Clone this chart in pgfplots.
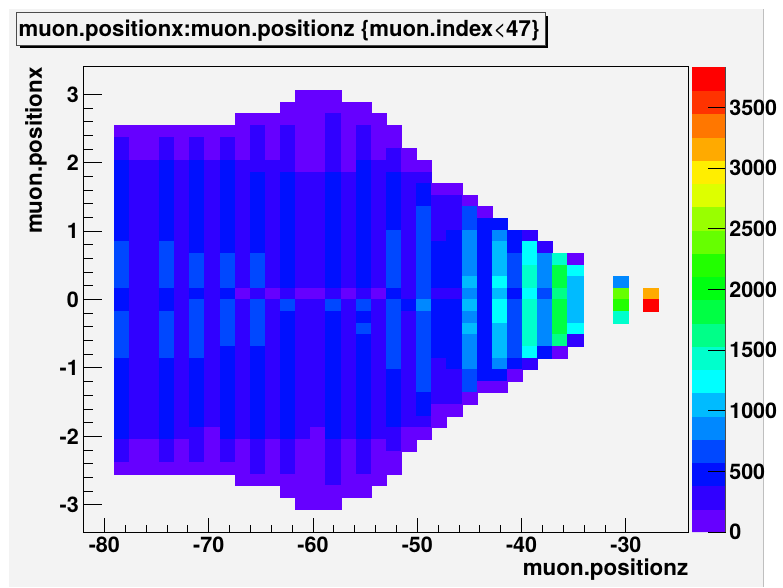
\documentclass[border=0pt]{standalone}
\usepackage{fontspec}
\setmainfont{TeX Gyre Heros}
\usepackage{pgfplots}
\usepackage{pgfplotstable}
\pgfplotsset{compat=1.18}
\definecolor{padbg}{HTML}{F3F3F3}
\pgfplotstableread[row sep=\\]{
c r n v\\
2 5 1 96\\ 2 6 2 288\\ 2 8 7 479\\ 2 15 4 671\\ 2 19 2 479\\ 2 21 4 671\\ 2 25 7 479\\ 2 32 2 288\\ 2 34 1 96\\
3 5 3 96\\ 3 8 24 288\\ 3 32 3 96\\
4 5 3 96\\ 4 8 24 288\\ 4 32 3 96\\
5 5 1 96\\ 5 6 2 288\\ 5 8 7 479\\ 5 15 4 671\\ 5 19 2 479\\ 5 21 4 671\\ 5 25 7 479\\ 5 32 2 288\\ 5 34 1 96\\
6 5 3 96\\ 6 8 24 288\\ 6 32 3 96\\
7 5 1 96\\ 7 6 2 288\\ 7 8 8 479\\ 7 16 3 671\\ 7 19 1 479\\ 7 20 5 671\\ 7 25 6 479\\ 7 31 3 288\\ 7 34 1 96\\
8 5 3 96\\ 8 8 23 288\\ 8 31 4 96\\
9 5 1 96\\ 9 6 2 288\\ 9 8 8 479\\ 9 16 3 671\\ 9 19 1 479\\ 9 20 4 671\\ 9 24 8 479\\ 9 32 2 288\\ 9 34 1 96\\
10 4 4 96\\ 10 8 11 288\\ 10 19 1 96\\ 10 20 12 288\\ 10 32 4 96\\
11 4 1 96\\ 11 5 4 288\\ 11 9 7 479\\ 11 16 3 671\\ 11 19 1 288\\ 11 20 4 671\\ 11 24 8 479\\ 11 32 3 288\\ 11 35 1 96\\
12 4 4 96\\ 12 8 11 288\\ 12 19 1 96\\ 12 20 12 288\\ 12 32 4 96\\
13 3 2 96\\ 13 5 4 288\\ 13 9 10 479\\ 13 19 1 288\\ 13 20 1 671\\ 13 21 11 479\\ 13 32 3 288\\ 13 35 2 96\\
14 2 7 96\\ 14 9 10 288\\ 14 19 1 96\\ 14 20 12 288\\ 14 32 6 96\\
15 2 7 96\\ 15 9 10 288\\ 15 19 1 96\\ 15 20 11 288\\ 15 31 7 96\\
16 2 2 96\\ 16 4 5 288\\ 16 9 10 479\\ 16 19 1 288\\ 16 20 1 671\\ 16 21 11 479\\ 16 32 4 288\\ 16 36 2 96\\
17 3 6 96\\ 17 9 10 288\\ 17 19 1 96\\ 17 20 12 288\\ 17 32 5 96\\
18 3 2 96\\ 18 5 3 288\\ 18 8 11 479\\ 18 19 1 288\\ 18 20 1 671\\ 18 21 1 479\\ 18 22 1 671\\ 18 23 9 479\\ 18 32 3 288\\ 18 35 2 96\\
19 4 4 96\\ 19 8 11 288\\ 19 19 1 96\\ 19 20 12 288\\ 19 32 4 96\\
20 5 2 96\\ 20 7 2 288\\ 20 9 5 479\\ 20 14 5 671\\ 20 19 1 479\\ 20 20 6 671\\ 20 26 5 479\\ 20 31 2 288\\ 20 33 2 96\\
21 7 2 96\\ 21 9 11 288\\ 21 20 1 479\\ 21 21 10 288\\ 21 31 2 96\\
22 8 1 96\\ 22 9 1 288\\ 22 10 2 479\\ 22 12 8 671\\ 22 20 1 863\\ 22 21 7 671\\ 22 28 2 479\\ 22 30 1 288\\ 22 31 1 96\\
23 10 1 96\\ 23 11 4 288\\ 23 15 4 479\\ 23 19 1 288\\ 23 20 5 479\\ 23 25 4 288\\ 23 29 2 96\\
24 10 1 96\\ 24 11 3 288\\ 24 14 5 479\\ 24 19 1 288\\ 24 20 6 479\\ 24 26 3 288\\ 24 29 1 96\\
25 11 1 96\\ 25 12 2 671\\ 25 14 4 863\\ 25 18 1 1055\\ 25 19 1 863\\ 25 20 1 1055\\ 25 21 1 863\\ 25 22 1 1055\\ 25 23 3 863\\ 25 26 2 671\\ 25 28 1 96\\
26 12 1 96\\ 26 13 14 479\\ 26 27 1 96\\
27 13 1 479\\ 27 14 1 863\\ 27 15 3 1055\\ 27 18 1 1247\\ 27 19 1 1055\\ 27 20 2 1247\\ 27 22 3 1055\\ 27 25 1 863\\ 27 26 1 479\\ 27 27 1 96\\
28 14 2 479\\ 28 16 3 671\\ 28 19 1 479\\ 28 20 5 671\\ 28 25 1 479\\ 28 26 1 96\\
29 14 1 288\\ 29 15 2 1247\\ 29 17 2 1438\\ 29 19 1 1247\\ 29 20 4 1438\\ 29 24 1 1247\\ 29 25 1 288\\
30 15 1 288\\ 30 16 3 863\\ 30 19 1 671\\ 30 20 4 863\\ 30 24 1 479\\
31 16 1 1438\\ 31 17 2 1822\\ 31 19 1 1630\\ 31 20 3 1822\\ 31 23 1 1630\\ 31 24 1 96\\
32 16 1 96\\ 32 17 1 1247\\ 32 18 4 1055\\ 32 22 1 1247\\ 32 23 1 288\\
35 18 1 863\\ 35 19 1 2397\\ 35 20 1 2206\\ 35 21 1 1438\\
37 19 1 3165\\ 37 20 1 3740\\
}\bins
\pgfdeclareplotmark{binrun}{%
  \pgfmathsetlengthmacro{\hh}{5.8125pt*\nrun}%
  \pgfpathrectangle{\pgfpoint{-7.5625pt}{-\hh}}{\pgfpoint{15.125pt}{2*\hh}}%
  \pgfusepathqfillstroke}
\begin{document}
\begin{tikzpicture}
\path[use as bounding box] (-83.5pt,-55pt) rectangle (699.5pt,532pt);
\fill[padbg] (-74.5pt,-55pt) rectangle (679.5pt,523pt);
\draw[black!25,line width=0.6pt] (679.5pt,-55pt) -- (679.5pt,523pt);
\begin{axis}[
  at={(0pt,0pt)}, anchor=south west,
  scale only axis, width=605pt, height=465pt,
  xmin=-82, xmax=-24, ymin=-3.4, ymax=3.4,
  xtick={-80,-70,-60,-50,-40,-30},
  xticklabels={-80,-70,-60,-50,-40,-30},
  ytick={-3,-2,-1,0,1,2,3},
  yticklabels={-3,-2,-1,0,1,2,3},
  minor x tick num=4, minor y tick num=4,
  tick pos=left, tick align=inside,
  every tick/.style={black,line width=0.9pt},
  minor tick style={black,line width=0.8pt},
  x tick style={/pgfplots/major tick length=14pt,/pgfplots/minor tick length=7pt},
  y tick style={/pgfplots/major tick length=18pt,/pgfplots/minor tick length=9pt},
  axis line style={black,line width=1pt},
  ticklabel style={font=\fontsize{21.5}{24}\selectfont\bfseries},
  xticklabel style={inner sep=0pt,yshift=-5pt},
  yticklabel style={inner sep=0pt,xshift=-4.5pt},
  xlabel={muon.positionz}, ylabel={muon.positionx},
  label style={font=\fontsize{22.4}{24}\selectfont\bfseries},
  xlabel style={at={(axis description cs:1,-0.0925)},anchor=base east,inner sep=0pt},
  ylabel style={at={(axis description cs:-0.0686,1)},anchor=base east,inner sep=0pt},
  colormap={rootpal}{rgb255=(102,0,255) rgb255=(48,0,255) rgb255=(0,16,255) rgb255=(0,72,255)
    rgb255=(0,136,255) rgb255=(0,187,255) rgb255=(0,255,255) rgb255=(0,255,204)
    rgb255=(0,255,136) rgb255=(0,255,68) rgb255=(0,255,17) rgb255=(34,255,0)
    rgb255=(102,255,0) rgb255=(153,255,0) rgb255=(221,255,0) rgb255=(255,238,0)
    rgb255=(255,170,0) rgb255=(255,119,0) rgb255=(255,51,0) rgb255=(255,0,0)},
  colormap access=piecewise constant,
  point meta min=0, point meta max=3836,
  colorbar right, colorbar sampled,
  colorbar style={
    samples=21,
    scale only axis, width=33.4pt, height=465pt,
    at={(1.00595,0)}, anchor=south west,
    ytick={0,500,1000,1500,2000,2500,3000,3500},
    yticklabels={0,500,1000,1500,2000,2500,3000,3500},
    yticklabel pos=right, ytick pos=right, tick align=inside,
    major tick length=17.7pt,
    minor y tick num=0,
    xtick=\empty,
    axis x line=none,
    axis y line*=right,
    y axis line style={black!70,line width=0.7pt},
    ticklabel style={font=\fontsize{21.5}{24}\selectfont\bfseries},
    yticklabel style={inner sep=0pt,xshift=3.6pt,anchor=west},
  },
]
\addplot[only marks, scatter, scatter src=explicit, mark=binrun,
  mark options={line width=0.15pt},
  scatter/use mapped color={draw=mapped color,fill=mapped color},
  visualization depends on={\thisrow{n} \as \nrun},
] table[x expr={-82+1.45*(\thisrow{c}+0.5)}, y expr={3.4-0.17*(\thisrow{r}+\thisrow{n}/2)}, meta=v] {\bins};
\end{axis}
\fill[black] (-63.5pt,483.7pt) rectangle (464.2pt,487pt);
\fill[black] (461pt,483.7pt) rectangle (464.2pt,516pt);
\draw[black!70,fill=padbg,line width=0.8pt] (-67.5pt,487pt) rectangle (461.5pt,519.5pt);
\node[anchor=base west,inner sep=0pt,font=\fontsize{22.15}{24}\selectfont\bfseries] at (-65pt,495.5pt) {muon.positionx:muon.positionz \{muon.index{\mdseries<}47\}};
\end{tikzpicture}
\end{document}
